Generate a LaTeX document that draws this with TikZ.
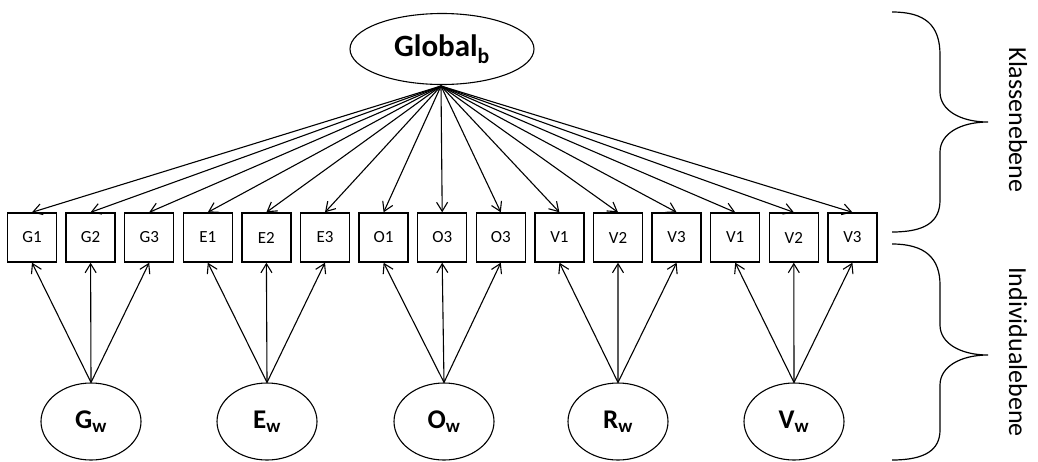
\documentclass[tikz,border=0pt]{standalone}
\usepackage{fontspec}
\setmainfont{Carlito}
\usetikzlibrary{arrows.meta,shapes.geometric}
\begin{document}
\begin{tikzpicture}[x=1pt,y=-1pt,
  line width=1.1pt,
  obs/.style={draw,line width=1.4pt,minimum width=49pt,minimum height=49pt,inner sep=0pt,font=\fontsize{17}{17}\selectfont},
  lat/.style={draw,ellipse,line width=1.1pt,minimum width=100pt,minimum height=77pt,inner sep=0pt,font=\bfseries\fontsize{27}{27}\selectfont},
  glob/.style={draw,ellipse,line width=1.1pt,minimum width=184pt,minimum height=71pt,inner sep=0pt,font=\bfseries\fontsize{31}{31}\selectfont},
  arr/.style={-{Straight Barb[length=9pt,width=11pt,line width=1.1pt]}},
  lvl/.style={rotate=-90,font=\fontsize{26}{26}\selectfont},
  brace/.style={line width=1.2pt}
]
\useasboundingbox (0,0) rectangle (1038,461);

\node[glob] (glb) at (442,49) {Global\textsubscript{b}};

\foreach \i/\t in {1/G1,2/G2,3/G3,4/E1,5/E2,6/E3,7/O1,8/O3,9/O3,10/V1,11/V2,12/V3,13/V1,14/V2,15/V3}{
  \node[obs] (b\i) at ({32+58.6*(\i-1)},237.5) {\t};
}

\node[lat] (gw) at (91,421.5) {G\textsubscript{w}};
\node[lat] (ew) at (267,421.5) {E\textsubscript{w}};
\node[lat] (ow) at (444,421.5) {O\textsubscript{w}};
\node[lat] (rw) at (618,421.5) {R\textsubscript{w}};
\node[lat] (vw) at (794,421.5) {V\textsubscript{w}};

\coordinate (apex) at (441,86);
\foreach \i in {1,...,15}{
  \draw[arr] (apex) -- (b\i.north);
}

\foreach \l/\a/\b/\c in {gw/1/2/3,ew/4/5/6,ow/7/8/9,rw/10/11/12,vw/13/14/15}{
  \draw[arr] (\l.north) -- (b\a.south);
  \draw[arr] (\l.north) -- (b\b.south);
  \draw[arr] (\l.north) -- (b\c.south);
}

% braces
\draw[brace] (892,12) .. controls (925,12) and (940,25) .. (940,55) -- (940,92)
  .. controls (940,110) and (960,122) .. (988,122)
  .. controls (960,122) and (940,134) .. (940,152) -- (940,200)
  .. controls (940,222) and (925,232) .. (892,232);
\draw[brace] (892,244) .. controls (925,244) and (940,258) .. (940,285) -- (940,325)
  .. controls (940,343) and (960,355) .. (988,355)
  .. controls (960,355) and (940,367) .. (940,385) -- (940,430)
  .. controls (940,450) and (925,460) .. (892,460);

\node[lvl] (kl) at (1018,120) {Klassenebene};
\node[lvl] (in) at (1018,352) {Individualebene};
\end{tikzpicture}
\end{document}
